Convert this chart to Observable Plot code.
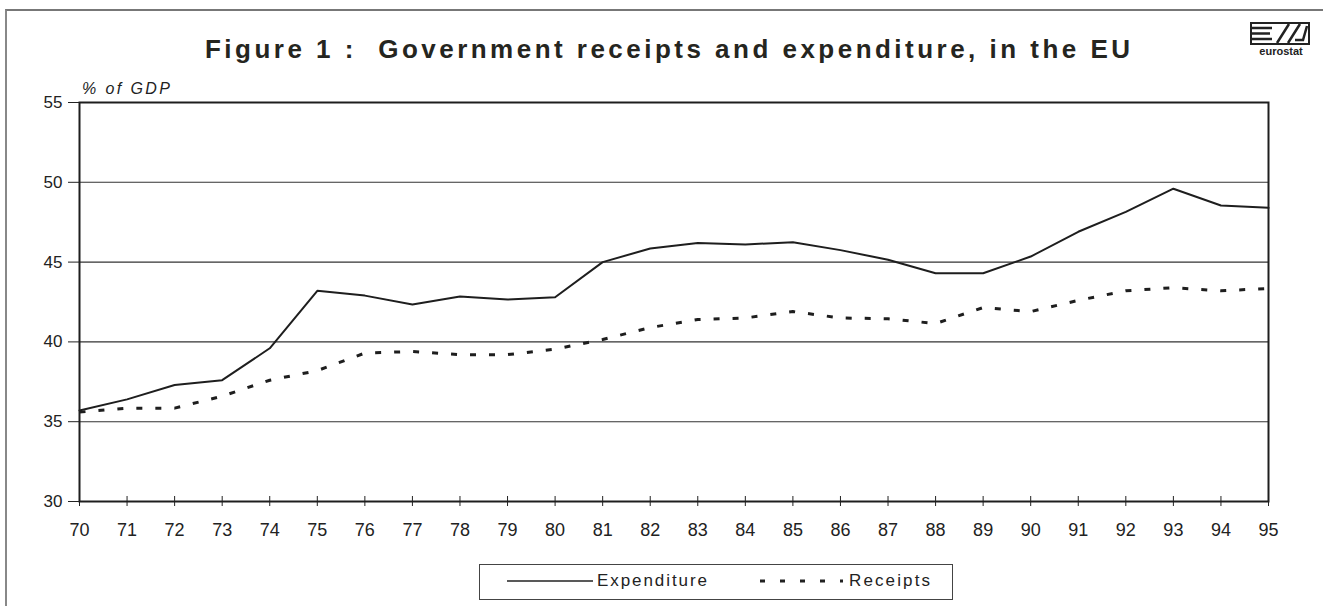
<!DOCTYPE html>
<html><head><meta charset="utf-8">
<script src="https://cdn.jsdelivr.net/npm/d3@7"></script>
<script src="https://cdn.jsdelivr.net/npm/@observablehq/plot@0.6"></script>
<style>
body{margin:0;background:#fff;}
#wrap{position:relative;width:1323px;height:606px;overflow:hidden;font-family:"Liberation Sans",Arial,sans-serif;color:#222;background:#fff;}
#frame{position:absolute;left:5px;top:9px;width:1400px;height:700px;border-left:2px solid #888;border-top:2px solid #777;}
#title{position:absolute;top:34px;left:205px;font-weight:bold;font-size:26px;line-height:30px;white-space:nowrap;color:#252520;}
#unit{position:absolute;top:79px;left:82px;font-style:italic;font-size:16px;line-height:19px;white-space:nowrap;}
#chart{position:absolute;left:0;top:0;}
#legend{position:absolute;left:479px;top:564px;width:472px;height:34px;border:1.5px solid #444;}
.lt{position:absolute;top:571px;font-size:17px;line-height:20px;white-space:nowrap;}
#logo{position:absolute;left:1248px;top:21px;}
</style>
</head><body>
<div id="wrap">
  <div id="frame"></div>
  <div id="title">Figure 1 :&nbsp; Government receipts and expenditure, in the EU</div>
  <svg id="logo" width="66" height="38" viewBox="0 0 66 38">
    <rect x="3" y="2" width="58" height="21" fill="none" stroke="#222" stroke-width="2"/>
    <path d="M3,7 H24 M3,12.5 H22 M3,18 H24" stroke="#222" stroke-width="2.5" fill="none"/>
    <path d="M29,22 L41,3 M40,22 L52,3 M47,19 H55 L59,5" stroke="#222" stroke-width="2.5" fill="none"/>
    <text x="33" y="34" text-anchor="middle" font-family="Liberation Sans, Arial" font-weight="bold" font-size="11" fill="#222">eurostat</text>
  </svg>
  <div id="unit">% of GDP</div>
  <div id="chart"></div>
  <div id="legend"></div>
  <svg style="position:absolute;left:0;top:0;pointer-events:none" width="1323" height="606">
    <line x1="507" x2="593" y1="581" y2="581" stroke="#222" stroke-width="1.6"/>
    <line x1="760" x2="843" y1="581" y2="581" stroke="#222" stroke-width="3" stroke-dasharray="5,15"/>
  </svg>
  <div class="lt" id="lexp" style="left:597px">Expenditure</div>
  <div class="lt" id="lrec" style="left:849px">Receipts</div>
</div>
<script>
// ---- data ----
const years = [70,71,72,73,74,75,76,77,78,79,80,81,82,83,84,85,86,87,88,89,90,91,92,93,94,95];
const expenditure = [35.7,36.4,37.3,37.6,39.6,43.2,42.9,42.35,42.85,42.65,42.8,45.0,45.85,46.2,46.1,46.25,45.75,45.15,44.3,44.3,45.35,46.9,48.15,49.6,48.55,48.4];
const receipts = [35.6,35.85,35.85,36.6,37.6,38.2,39.3,39.4,39.2,39.2,39.55,40.15,40.9,41.4,41.5,41.9,41.5,41.45,41.15,42.15,41.9,42.6,43.2,43.4,43.2,43.35];
const yTicks = [30,35,40,45,50,55];
const gridValues = [35,40,45,50];

const expRows = years.map((y,i)=>({year:y, value:expenditure[i]}));
const recRows = years.map((y,i)=>({year:y, value:receipts[i]}));

const chart = Plot.plot({
  width: 1323,
  height: 545,
  marginTop: 102,
  marginBottom: 44,
  marginLeft: 79,
  marginRight: 55,
  style: {fontFamily: "Liberation Sans, Arial, sans-serif", fontSize: "17px", color: "#222", background: "transparent"},
  x: {domain: [70, 95]},
  y: {domain: [30, 55]},
  marks: [
    Plot.ruleY(gridValues, {stroke: "#333", strokeWidth: 1.1}),
    Plot.axisY(yTicks, {tickSize: 11, tickPadding: 6, label: null, stroke: "#222"}),
    Plot.axisX(years, {tickSize: 5, tickPadding: 17, label: null, tickFormat: d => String(d), stroke: "#222", fontSize: 18}),
    Plot.tickX(years, {x: d => d, insetTop: 394, stroke: "#222"}),
    Plot.line(recRows, {x: "year", y: "value", stroke: "#1e1e1e", strokeWidth: 3, strokeDasharray: "6,13", strokeLinecap: "butt"}),
    Plot.line(expRows, {x: "year", y: "value", stroke: "#1e1e1e", strokeWidth: 2}),
    Plot.frame({stroke: "#1e1e1e", strokeWidth: 2})
  ]
});
document.getElementById("chart").appendChild(chart);

function fit(id, w){
  const el = document.getElementById(id);
  el.style.letterSpacing = "0px";
  const nat = el.getBoundingClientRect().width;
  const n = el.textContent.length;
  el.style.letterSpacing = ((w - nat) / (n - 1)) + "px";
}
fit("title", 925);
fit("unit", 88);
fit("lexp", 110);
fit("lrec", 81);
</script>
</body></html>
